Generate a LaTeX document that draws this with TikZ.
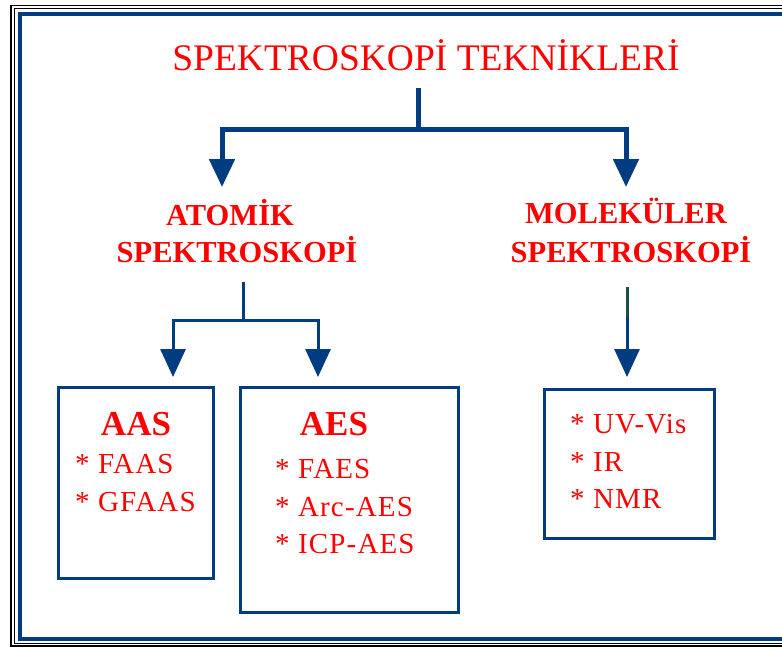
\documentclass[tikz,border=0pt]{standalone}
\usepackage{fontspec}
\setmainfont{Liberation Serif}
\usetikzlibrary{arrows.meta}
\definecolor{navy}{HTML}{003C80}
\definecolor{darkteal}{HTML}{1E4D46}
\definecolor{redt}{HTML}{FF0000}
\tikzset{
  frameblack/.style={draw=black,line width=1.5pt},
  frameblue/.style={draw=navy,line width=4pt},
  thick tree/.style={draw=navy,line width=5pt,line cap=butt},
  thin tree/.style={draw=navy,line width=3pt,line cap=butt},
  tip/.style={-{Triangle[width=25pt,length=28pt]}},
  boxst/.style={draw=navy,line width=3pt,rectangle,inner sep=0pt},
  titletxt/.style={text=redt,inner sep=0pt,anchor=base,font=\fontsize{37.5}{40}\selectfont},
  headtxt/.style={text=redt,inner sep=0pt,anchor=base,font=\fontsize{30.5}{33}\selectfont\bfseries},
  boxhead/.style={text=redt,inner sep=0pt,anchor=base,font=\fontsize{35}{38}\selectfont\bfseries},
  itemtxt/.style={text=redt,inner sep=0pt,anchor=base west,font=\fontsize{29}{32}\selectfont\addfontfeatures{LetterSpace=4}},
}
\begin{document}
\begin{tikzpicture}[x=1pt,y=-1pt]
\useasboundingbox (0,0) rectangle (782,646);
\fill[white] (0,0) rectangle (782,646);
\begin{scope}
\clip (0,0) rectangle (782,646);
\draw[frameblack] (11,5.5) rectangle (800,645.8);
\draw[frameblack] (14.5,8.5) rectangle (796,643.5);
\draw[frameblue] (20,14) rectangle (792,639);
\end{scope}

% texts
\node[titletxt] (title) at (426,70) {SPEKTROSKOPİ TEKNİKLERİ};
\node[headtxt] (atom1) at (230,225) {ATOMİK};
\node[headtxt] (atom2) at (237,262) {SPEKTROSKOPİ};
\node[headtxt] (mol1) at (626,223) {MOLEKÜLER};
\node[headtxt] (mol2) at (631,262) {SPEKTROSKOPİ};

% boxes
\node[boxst,minimum width=155pt,minimum height=191pt] (aasbox) at (135.5,482.5) {};
\node[boxst,minimum width=218pt,minimum height=225pt] (aesbox) at (349,499.5) {};
\node[boxst,minimum width=170pt,minimum height=149pt] (molbox) at (629,463.5) {};

\node[boxhead] (aas) at (136,435) {AAS};
\node[itemtxt] (faas) at (75,473) {* FAAS};
\node[itemtxt] (gfaas) at (75,511) {* GFAAS};

\node[boxhead] (aes) at (334,435) {AES};
\node[itemtxt] (faes) at (275,478) {* FAES};
\node[itemtxt] (arc) at (275,516) {* Arc-AES};
\node[itemtxt] (icp) at (275,553) {* ICP-AES};

\node[itemtxt] (uv) at (570,433) {* UV-Vis};
\node[itemtxt] (ir) at (570,471) {* IR};
\node[itemtxt] (nmr) at (570,508) {* NMR};

% connector coordinates
\coordinate (t0) at (418,88);
\coordinate (tj) at (418,129);
\coordinate (al) at (222,187);
\coordinate (ml) at (626,187);
\coordinate (a0) at (243,282);
\coordinate (aj) at (243,320);
\coordinate (bl) at (173,377);
\coordinate (br) at (318,377);
\coordinate (m0) at (627,287);
\coordinate (m1) at (627,317);
\coordinate (m2) at (627,377);

% connectors
\draw[thick tree] (t0) -- (tj);
\draw[thick tree,tip] (tj) -| (al);
\draw[thick tree,tip] (tj) -| (ml);
\draw[thin tree] (a0) -- (aj);
\draw[thin tree,tip] (aj) -| (bl);
\draw[thin tree,tip] (aj) -| (br);
\draw[draw=darkteal,line width=3pt] (m0) -- (m1);
\draw[thin tree,tip] (m1) -- (m2);
\end{tikzpicture}
\end{document}
